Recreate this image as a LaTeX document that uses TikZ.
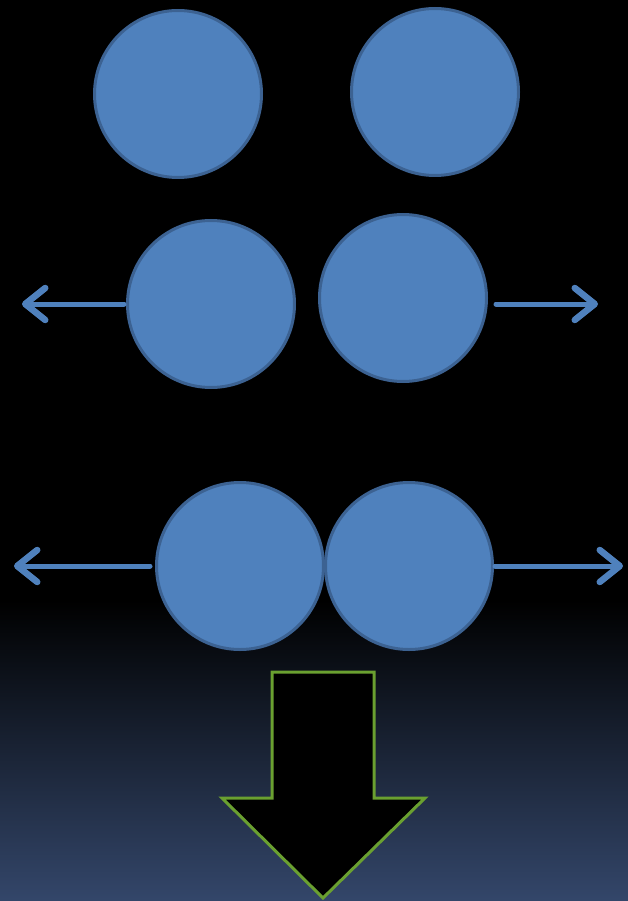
\documentclass[tikz,border=0pt]{standalone}
\usepackage{xcolor}
\usepackage{tikz}
\usetikzlibrary{arrows.meta,calc}
\definecolor{ballBlue}{RGB}{79,129,189}
\definecolor{ballEdge}{RGB}{60,98,146}
\definecolor{floorBlue}{RGB}{52,71,107}
\definecolor{bigGreen}{RGB}{106,160,48}
\tikzstyle{tsBall} = [
    circle,
    fill=ballBlue,
    draw=ballEdge,
    line width=3pt,
    minimum size=167pt,
    inner sep=0pt
]
\tikzstyle{tsPush} = [
    draw=ballBlue,
    line width=5pt,
    line cap=round,
    -{Straight Barb[length=20pt,width=32pt,line width=6.5pt,line cap=round,round]}
]

\begin{document}
\begin{tikzpicture}[x=1pt, y=-1pt]

    \useasboundingbox (0,0) rectangle (627,901);
    \fill[black] (-3,-3) rectangle (630,601);
    \shade[top color=black, bottom color=floorBlue] (-3,600) rectangle (630,904);

    % top row, apart
    \node[tsBall] (ballA) at (178, 94) {};
    \node[tsBall] (ballB) at (435, 92) {};

    % middle row
    \node[tsBall] (ballC) at (211, 304) {};
    \node[tsBall] (ballD) at (403, 298) {};
    \coordinate (leftC)  at (22, 304);
    \coordinate (rightD) at (598, 304);
    \draw[tsPush] ([xshift=-2pt]ballC.west) -- (leftC);
    \draw[tsPush] ([xshift=8pt]ballD.east |- leftC) -- (rightD);

    % bottom row, touching
    \node[tsBall] (ballE) at (240, 566) {};
    \node[tsBall] (ballF) at (409, 566) {};
    \coordinate (leftE)  at (14, 566);
    \coordinate (rightF) at (623, 566);
    \draw[tsPush] ([xshift=-5pt]ballE.west) -- (leftE);
    \draw[tsPush] ([xshift=1pt]ballF.east) -- (rightF);

    % big arrow
    \draw[bigGreen, fill=black, line width=3pt, line join=miter]
        (272,672) -- (374,672) -- (374,798) -- (425,798)
        -- (323,898) -- (222,798) -- (272,798) -- cycle;

\end{tikzpicture}
\end{document}
